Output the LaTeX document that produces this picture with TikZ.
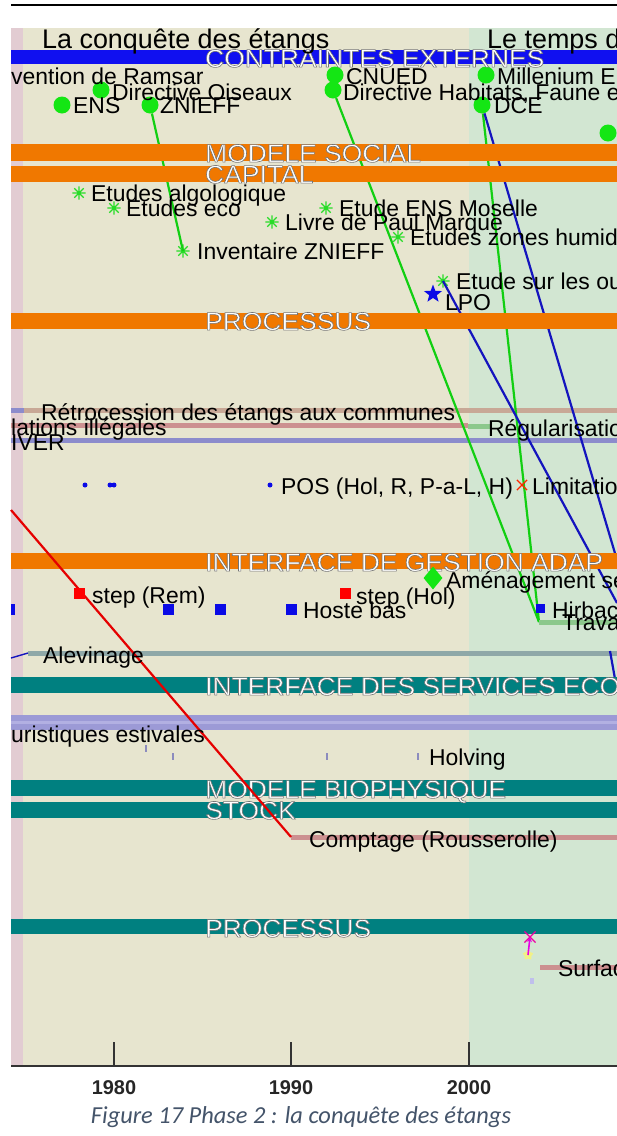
\documentclass[tikz,border=0pt]{standalone}
\usepackage{fontspec}
\setmainfont{Liberation Sans}
\newfontfamily\lblfam{Liberation Sans}
\newfontfamily\titfam{Liberation Sans}
\newfontfamily\barfam[FakeStretch=1.04]{Liberation Sans}
\newfontfamily\yrfam{Liberation Sans}
\newfontfamily\capfam{Carlito}
\usetikzlibrary{shapes.geometric,shapes.misc,arrows.meta}
\definecolor{beige}{RGB}{231,229,207}
\definecolor{paleg}{RGB}{210,230,210}
\definecolor{pinkstrip}{RGB}{226,204,210}
\definecolor{barblue}{RGB}{16,16,240}
\definecolor{barorange}{RGB}{240,120,0}
\definecolor{barteal}{RGB}{0,128,128}
\definecolor{dotgreen}{RGB}{20,230,20}
\definecolor{astgreen}{RGB}{40,220,40}
\definecolor{lineblue}{RGB}{20,20,190}
\definecolor{sqblue}{RGB}{10,10,230}
\definecolor{tanline}{RGB}{200,168,150}
\definecolor{pinkline}{RGB}{204,144,144}
\definecolor{purpline}{RGB}{140,140,204}
\definecolor{lgreenline}{RGB}{140,200,140}
\definecolor{greyteal}{RGB}{143,168,168}
\definecolor{lavender}{RGB}{156,154,214}
\definecolor{lavlight}{RGB}{178,176,226}
\definecolor{captionc}{RGB}{68,84,106}
\definecolor{tickc}{RGB}{140,140,190}
\definecolor{magent}{RGB}{230,0,230}
\newcommand\outlined[1]{\special{pdf:literal direct 2 Tr 0.6 w 0.45 0.45 0.45 RG}#1\special{pdf:literal direct 0 Tr}}
\begin{document}
\begin{tikzpicture}[x=1bp,y=-1bp,
  lbl/.style={anchor=west, inner sep=0pt, text height=16.4bp, text depth=0pt, font=\lblfam\fontsize{23}{25}\selectfont, text=black},
  ttl/.style={anchor=west, inner sep=0pt, text height=19.3bp, text depth=0pt, font=\titfam\fontsize{27}{29}\selectfont, text=black},
  barlbl/.style={anchor=west, inner sep=0pt, text height=18.3bp, text depth=0pt, font=\barfam\fontsize{25.5}{27}\selectfont, text=white},
  gdot/.style={circle, fill=dotgreen, minimum size=17bp, inner sep=0pt},
  astm/.style={circle, minimum size=13bp, inner sep=0pt},
  bsq/.style={rectangle, fill=sqblue, minimum size=11bp, inner sep=0pt},
  rsq/.style={rectangle, fill=red, minimum size=11bp, inner sep=0pt},
  bdot/.style={circle, fill=sqblue, minimum size=5bp, inner sep=0pt},
  tickm/.style={rectangle, fill=tickc, minimum width=1.5bp, minimum height=7bp, inner sep=0pt},
  gline/.style={draw=dotgreen!90!black, line width=2.2bp},
  bline/.style={draw=lineblue, line width=2.2bp},
  rline/.style={draw=red!90!black, line width=2.2bp},
  rowline/.style={line width=5bp},
  yr/.style={font=\yrfam\bfseries\fontsize{20}{22}\selectfont, text=black!85, inner sep=0pt}
]
\useasboundingbox (0,0) rectangle (617,1136);
\fill[white] (0,0) rectangle (617,1136);
% backgrounds
\fill[beige] (23,28) rectangle (469,1066);
\fill[paleg] (469,28) rectangle (617,1066);
\fill[pinkstrip] (11,28) rectangle (23,1066);
\draw[black, line width=2.2bp] (11,5) -- (617,5);

% row lines
\draw[rowline, purpline] (11,410) -- (24,410);
\draw[rowline, tanline] (24,410) -- (617,410);
\draw[rowline, pinkline] (11,425) -- (468,425);
\draw[rowline, lgreenline] (468,426) -- (490,426);
\draw[rowline, purpline] (11,440) -- (617,440);
\draw[rowline, greyteal] (28,653) -- (617,653);
\fill[lavender] (11,715) rectangle (617,730);
\draw[lavlight, line width=3bp] (11,722.5) -- (617,722.5);

% markers (top)
\node[gdot] (dOis) at (101,90) {};
\node[gdot] (dENS) at (62,105) {};
\node[gdot] (dZNI) at (150,105) {};
\node[gdot] (dCNU) at (335,75) {};
\node[gdot] (dHab) at (333,90) {};
\node[gdot] (dMil) at (486,75) {};
\node[gdot] (dDCE) at (482,105) {};
\node[gdot] (dRgt) at (608,133) {};

\node[astm] (a1) at (79,193) {};
\node[astm] (a2) at (114,208) {};
\node[astm] (a3) at (326,208) {};
\node[astm] (a4) at (272,222) {};
\node[astm] (a5) at (398,237) {};
\node[astm] (a6) at (183,251) {};
\node[astm] (a7) at (443,281) {};
\foreach \n in {a1,a2,a3,a4,a5,a6,a7}
  \draw[astgreen, line width=1.2bp] (\n.north) -- (\n.south) (\n.east) -- (\n.west) (\n.45) -- (\n.225) (\n.135) -- (\n.315);
\node[star, star points=5, star point ratio=2.4, fill=sqblue, minimum size=19bp, inner sep=0pt] (sLPO) at (433,294) {};

% connector end coordinates
\coordinate (cTr) at (539,622);
\coordinate (eB1) at (617,603);
\coordinate (eB2) at (617,560);
\coordinate (eTr) at (617,622);
\coordinate (eB3) at (610,651);
\coordinate (eB4) at (617,690);
\coordinate (r0) at (11,510);
\coordinate (r1) at (291,837);
\coordinate (eCo) at (617,837);
\coordinate (eAl) at (28,653);
\coordinate (sAl) at (11,658);

% connectors (behind bars)
\draw[gline] (dZNI) -- (a6.center);
\draw[gline] (dHab) -- (cTr);
\draw[gline] (dDCE) -- (cTr);
\draw[rowline, lgreenline] (cTr) -- (eTr);
\draw[bline] (a7.center) -- (eB1);
\draw[bline] (dDCE) -- (eB2);
\draw[bline] (eB3) -- (eB4);
\draw[lineblue, line width=1.4bp] (sAl) -- (eAl);
\draw[rowline, pinkline] (r1) -- (eCo);
\draw[rowline, pinkline] (540,967) -- (617,967);

% bars
\fill[barblue] (11,50) rectangle (617,64);
\fill[barorange] (11,144) rectangle (617,161);
\fill[barorange] (11,166) rectangle (617,182);
\fill[barorange] (11,313) rectangle (617,329);
\fill[barorange] (11,553) rectangle (617,569);
\fill[barteal] (11,677) rectangle (617,693);
\fill[barteal] (11,780) rectangle (617,796);
\fill[barteal] (11,802) rectangle (617,818);
\fill[barteal] (11,919) rectangle (617,934);

\node[barlbl] (bCE) at (205,58) {\outlined{CONTRAINTES EXTERNES}};
\node[barlbl] (bMS) at (205,153) {\outlined{MODELE SOCIAL}};
\node[barlbl] (bCA) at (205,174) {\outlined{CAPITAL}};
\node[barlbl] (bP1) at (205,321) {\outlined{PROCESSUS}};
\node[barlbl] (bIG) at (205,562) {\outlined{INTERFACE DE GESTION ADAP}};
\node[barlbl] (bIS) at (205,686) {\outlined{INTERFACE DES SERVICES ECO}};
\node[barlbl] (bMB) at (205,789) {\outlined{MODELE BIOPHYSIQUE}};
\node[barlbl] (bST) at (205,810) {\outlined{STOCK}};
\node[barlbl] (bP2) at (205,928) {\outlined{PROCESSUS}};

% red connector over bars
\draw[rline] (r0) -- (r1);

% lower markers
\node[bdot] (p1) at (85,485) {};
\node[bdot] (p2) at (110,485) {};
\node[bdot] (p3) at (114,485) {};
\node[bdot] (p4) at (270,485) {};
\node[cross out, draw=red!70!orange, line width=1.2bp, minimum size=9bp, inner sep=0pt] (xLim) at (522,485) {};
\node[diamond, fill=dotgreen, minimum width=19bp, minimum height=23bp, inner sep=0pt] (dAm) at (433,578) {};
\node[rsq] (rs1) at (79,593) {};
\node[rsq] (rs2) at (345,593) {};
\node[bsq, minimum width=4bp] (bs0) at (13,609) {};
\node[bsq] (bs1) at (168,609) {};
\node[bsq] (bs2) at (220,609) {};
\node[bsq] (bs3) at (291,609) {};
\node[bsq, minimum size=9bp] (bs4) at (540,608) {};
\node[tickm] (k1) at (146,748) {};
\node[tickm] (k2) at (173,756) {};
\node[tickm] (k3) at (327,756) {};
\node[tickm] (k4) at (418,756) {};
\node[star, star points=5, fill=yellow!60, opacity=0.7, minimum size=11bp, inner sep=0pt] (ySt) at (528,955) {};
\node[cross out, draw=magent!70!red, line width=1.1bp, minimum size=10bp, inner sep=0pt] (xMg) at (530,937) {};
\draw[magent, line width=1.6bp, -{Stealth[length=5bp,width=5bp]}] (ySt.center) -- (xMg.center);
\node[rectangle, fill=black!30!blue!25!white, minimum width=4bp, minimum height=6bp, inner sep=0pt] (gSq) at (532,981) {};

% titles
\node[ttl] (tTit1) at (42,39) {La conquête des étangs};
\node[ttl] (tTit2) at (487,39) {Le temps d};

% labels
\node[lbl] (tRam) at (11,76) {vention de Ramsar};
\node[lbl] (tOis) at (112,92) {Directive Oiseaux};
\node[lbl] (tENS) at (73,105) {ENS};
\node[lbl] (tZNI) at (160,105) {ZNIEFF};
\node[lbl] (tCNU) at (346,76) {CNUED};
\node[lbl] (tHab) at (343,92) {Directive Habitats, Faune e};
\node[lbl] (tMil) at (497,76) {Millenium E};
\node[lbl] (tDCE) at (494,105) {DCE};
\node[lbl] (ta1) at (91,193) {Etudes algologique};
\node[lbl] (ta2) at (126,208) {Etudes eco};
\node[lbl] (ta3) at (339,208) {Etude ENS Moselle};
\node[lbl] (ta4) at (285,222) {Livre de Paul Marque};
\node[lbl] (ta5) at (410,237) {Etudes zones humid};
\node[lbl] (ta6) at (197,251) {Inventaire ZNIEFF};
\node[lbl] (ta7) at (456,281) {Etude sur les ou};
\node[lbl] (tLPO) at (445,302) {LPO};
\node[lbl] (tRet) at (41,412) {Rétrocession des étangs aux communes};
\node[lbl] (tIll) at (11,427) {lations illégales};
\node[lbl] (tReg) at (488,428) {Régularisatio};
\node[lbl] (tIVE) at (11,442) {IVER};
\node[lbl] (tPOS) at (281,486) {POS (Hol, R, P-a-L, H)};
\node[lbl] (tLim) at (532,486) {Limitatio};
\node[lbl] (tAm) at (446,580) {Aménagement se};
\node[lbl] (tRem) at (92,595) {step (Rem)};
\node[lbl] (tHol) at (356,596) {step (Hol)};
\node[lbl] (tHos) at (303,610) {Hoste bas};
\node[lbl] (tHir) at (552,610) {Hirbac};
\node[lbl] (tTra) at (562,622) {Trava};
\node[lbl] (tAle) at (43,655) {Alevinage};
\node[lbl] (tTou) at (11,734) {uristiques estivales};
\node[lbl] (tHlv) at (429,757) {Holving};
\node[lbl] (tCom) at (309,839) {Comptage (Rousserolle)};
\node[lbl] (tSur) at (558,968) {Surfac};

% axis
\coordinate (ax0) at (11,1066);
\coordinate (ax1) at (617,1066);
\draw[black!80, line width=1.4bp] (ax0) -- (ax1);
\foreach \xx/\yy in {114/1980, 291/1990, 469/2000}{
  \coordinate (tk\yy) at (\xx,1066);
  \draw[black!80, line width=1.2bp] (tk\yy) -- ++(0,-24);
  \node[yr] (y\yy) at (\xx,1088) {\yy};
}
\node[font=\capfam\itshape\fontsize{24.5}{27}\selectfont, text=captionc, inner sep=0pt] (cap) at (301,1117) {Figure 17 Phase 2 : la conquête des étangs};
\end{tikzpicture}
\end{document}
